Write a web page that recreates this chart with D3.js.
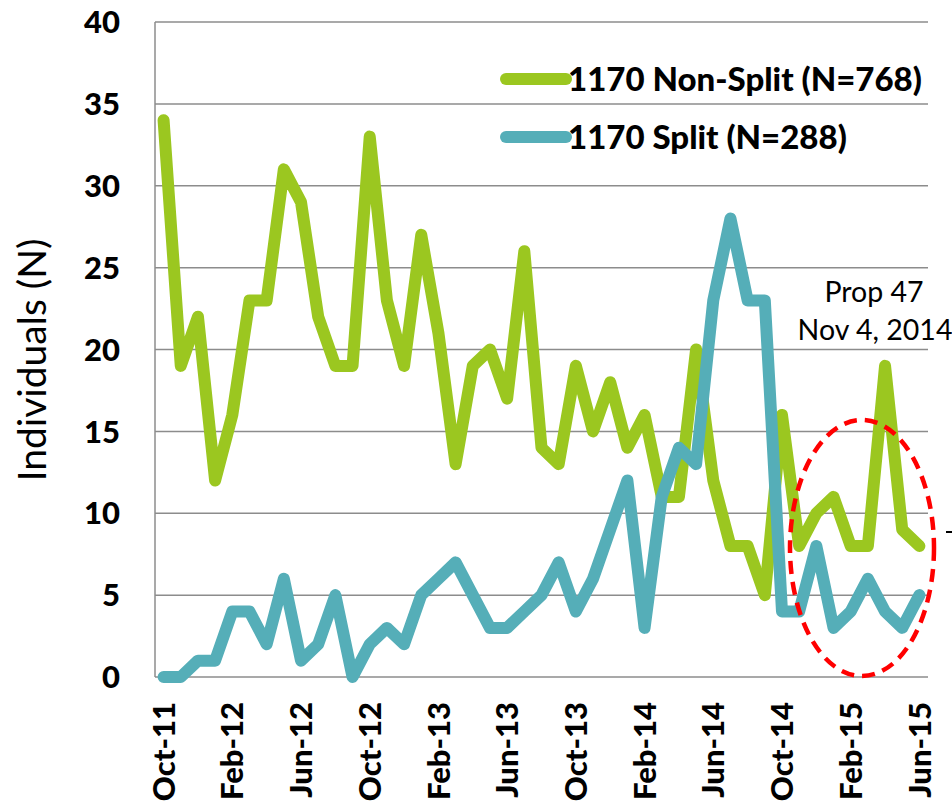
<!DOCTYPE html>
<html>
<head>
<meta charset="utf-8">
<script src="https://cdn.jsdelivr.net/npm/d3@7"></script>
<style>
  html, body { margin: 0; padding: 0; background: #fff; }
  #main { width: 952px; height: 808px; }
  text { font-family: Lato, "Open Sans", sans-serif; fill: #000; }
</style>
</head>
<body>
<div id="main"></div>
<script>
const months = [
  "Oct-11","Nov-11","Dec-11",
  "Jan-12","Feb-12","Mar-12","Apr-12","May-12","Jun-12","Jul-12","Aug-12","Sep-12","Oct-12","Nov-12","Dec-12",
  "Jan-13","Feb-13","Mar-13","Apr-13","May-13","Jun-13","Jul-13","Aug-13","Sep-13","Oct-13","Nov-13","Dec-13",
  "Jan-14","Feb-14","Mar-14","Apr-14","May-14","Jun-14","Jul-14","Aug-14","Sep-14","Oct-14","Nov-14","Dec-14",
  "Jan-15","Feb-15","Mar-15","Apr-15","May-15","Jun-15"
];
const nonSplit = [34,19,22,12,16,23,23,31,29,22,19,19,33,23,19,27,21,13,19,20,17,26,14,13,19,15,18,14,16,11,11,20,12,8,8,5,16,8,10,11,8,8,19,9,8];
const split    = [0,0,1,1,4,4,2,6,1,2,5,0,2,3,2,5,6,7,5,3,3,4,5,7,4,6,9,12,3,11,14,13,23,28,23,23,4,4,8,3,4,6,4,3,5];
const xTickLabels = ["Oct-11","Feb-12","Jun-12","Oct-12","Feb-13","Jun-13","Oct-13","Feb-14","Jun-14","Oct-14","Feb-15","Jun-15"];
const yTicks = [0,5,10,15,20,25,30,35,40];
const seriesNames = ["1170 Non-Split (N=768)", "1170 Split (N=288)"];
const colors = ["#9bc720", "#55aeb8"];

const width = 952, height = 808;
const plotL = 155, plotR = 928, plotT = 22, plotB = 677;

const svg = d3.select("#main").append("svg")
  .attr("width", width)
  .attr("height", height);

const x = d3.scalePoint().domain(months).range([plotL, plotR]).padding(0.5);
const y = d3.scaleLinear().domain([0, 40]).range([plotB, plotT]);

// gridlines
svg.append("g")
  .selectAll("line")
  .data(yTicks.filter(d => d > 0))
  .enter()
  .append("line")
  .attr("x1", plotL)
  .attr("x2", plotR)
  .attr("y1", d => y(d))
  .attr("y2", d => y(d))
  .attr("stroke", "#8c8c8c")
  .attr("stroke-width", 1.5);

// axes lines
svg.append("line")
  .attr("x1", plotL).attr("x2", plotL)
  .attr("y1", plotT).attr("y2", plotB)
  .attr("stroke", "#8c8c8c").attr("stroke-width", 1.5);
svg.append("line")
  .attr("x1", plotL).attr("x2", plotR)
  .attr("y1", plotB).attr("y2", plotB)
  .attr("stroke", "#8c8c8c").attr("stroke-width", 1.5);

// y tick labels
svg.append("g")
  .selectAll("text")
  .data(yTicks)
  .enter()
  .append("text")
  .attr("x", 120)
  .attr("y", d => y(d))
  .attr("dy", "0.36em")
  .attr("text-anchor", "end")
  .style("font-weight", "900")
  .style("font-size", "31px")
  .text(d => d);

// x tick labels
svg.append("g")
  .selectAll("text")
  .data(xTickLabels)
  .enter()
  .append("text")
  .attr("transform", d => `translate(${x(d)}, 702) rotate(-90)`)
  .attr("dy", "0.36em")
  .attr("text-anchor", "end")
  .style("font-weight", "900")
  .style("font-size", "31px")
  .text(d => d);

// y axis title
svg.append("text")
  .attr("transform", "translate(32, 360) rotate(-90)")
  .attr("dy", "0.36em")
  .attr("text-anchor", "middle")
  .style("font-size", "39px")
  .text("Individuals (N)");

// lines
const line = d3.line()
  .x((d, i) => x(months[i]))
  .y(d => y(d));

[nonSplit, split].forEach((s, k) => {
  svg.append("path")
    .datum(s)
    .attr("d", line)
    .attr("fill", "none")
    .attr("stroke", colors[k])
    .attr("stroke-width", 12)
    .attr("stroke-linejoin", "round")
    .attr("stroke-linecap", "round");
});

// legend
const legend = svg.append("g");
[79, 137].forEach((ly, k) => {
  legend.append("line")
    .attr("x1", 506).attr("x2", 566)
    .attr("y1", ly).attr("y2", ly)
    .attr("stroke", colors[k])
    .attr("stroke-width", 12)
    .attr("stroke-linecap", "round");
  legend.append("text")
    .attr("x", 568)
    .attr("y", ly + 12)
    .style("font-weight", "900")
    .style("font-size", "33px")
    .text(seriesNames[k]);
});

// annotation
svg.append("text")
  .attr("x", 874).attr("y", 302)
  .attr("text-anchor", "middle")
  .style("font-size", "28.5px")
  .text("Prop 47");
svg.append("text")
  .attr("x", 875).attr("y", 340)
  .attr("text-anchor", "middle")
  .style("font-size", "28.5px")
  .text("Nov 4, 2014");

svg.append("ellipse")
  .attr("cx", 862).attr("cy", 548)
  .attr("rx", 72).attr("ry", 128)
  .attr("fill", "none")
  .attr("stroke", "#ff0000")
  .attr("stroke-width", 4.5)
  .attr("stroke-dasharray", "13,8");

svg.append("line")
  .attr("x1", 946).attr("x2", 956)
  .attr("y1", 532).attr("y2", 532)
  .attr("stroke", "#000")
  .attr("stroke-width", 2);
</script>
</body>
</html>
